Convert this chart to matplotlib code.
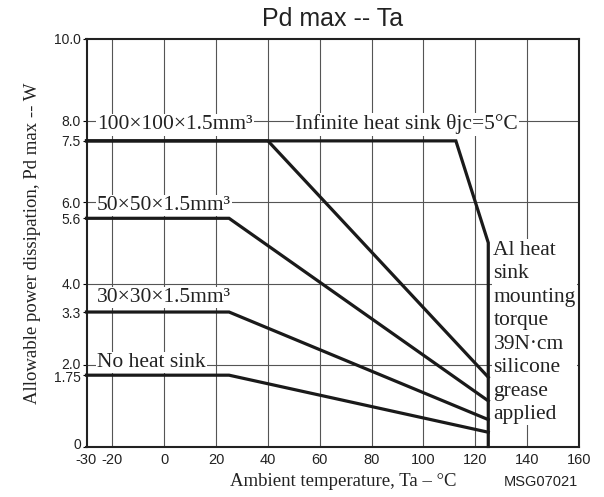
import numpy as np
import matplotlib
matplotlib.use("Agg")
import matplotlib.pyplot as plt
from matplotlib.transforms import ScaledTranslation

# ── Data ──────────────────────────────────────────────────────────────────────
inf_x,  inf_y  = [-30, 112.5, 125, 125], [7.5, 7.5, 5.0, 0.0]
s100_x, s100_y = [-30, 40, 125], [7.5, 7.5, 1.70]
s50_x,  s50_y  = [-30, 25, 125], [5.6, 5.6, 1.12]
s30_x,  s30_y  = [-30, 25, 125], [3.3, 3.3, 0.66]
none_x, none_y = [-30, 25, 125], [1.75, 1.75, 0.35]

xticks = [-30, -20, 0, 20, 40, 60, 80, 100, 120, 140, 160]
xgrid  = [-20, 0, 20, 40, 60, 80, 100, 120, 140]
yticks = [0, 1.75, 2.0, 3.3, 4.0, 5.6, 6.0, 7.5, 8.0, 10.0]
ytick_labels = ["0", "1.75", "2.0", "3.3", "4.0", "5.6", "6.0", "7.5", "8.0", "10.0"]
ygrid  = [2, 4, 6, 8]

SANS, SERIF = "Liberation Sans", "Liberation Serif"
LINE = "#1a1a1a"
TXT = "#222222"

fig = plt.figure(figsize=(6.04, 4.97), dpi=100)
ax = fig.add_axes([86.5/604, 1-446.5/497, (579-86.5)/604, (446.5-39)/497])
ax.set_xlim(-30, 160); ax.set_ylim(0, 10)

for gx in xgrid:
    ax.axvline(gx, color="#555555", lw=0.8, zorder=1)
for gy in ygrid:
    ax.axhline(gy, color="#555555", lw=0.8, zorder=1)

for xs, ys in [(inf_x, inf_y), (s100_x, s100_y), (s50_x, s50_y), (s30_x, s30_y), (none_x, none_y)]:
    ax.plot(xs, ys, color=LINE, lw=2.3, solid_joinstyle="miter", zorder=3, clip_on=False)

ax.set_xticks(xticks)
ax.set_xticklabels([str(v) for v in xticks], family=SANS, fontsize=10.5, color=TXT)
ax.set_yticks(yticks)
ax.set_yticklabels(ytick_labels, family=SANS, fontsize=10, color=TXT)
ax.tick_params(axis="x", length=0, pad=5)
ax.tick_params(axis="y", length=3, width=0.8, pad=1)
for s in ax.spines.values():
    s.set_linewidth(1.5); s.set_color(TXT)

# nudge the crowded labels apart a little
shift = {"2.0": 1.2, "1.75": -1.2, "0": 2.5}
for lab in ax.get_yticklabels():
    if lab.get_text() in shift:
        dy = shift[lab.get_text()] / 72
        lab.set_transform(lab.get_transform() + ScaledTranslation(0, dy, fig.dpi_scale_trans))

box = dict(facecolor="white", edgecolor="none", pad=1.0)
tk = dict(family=SERIF, fontsize=15.5, color=TXT, zorder=4, bbox=box)
ax.text(-26, 7.78, "100×100×1.5mm³", ha="left", va="baseline", **tk)
ax.text(50.4, 7.78, "Infinite heat sink θjc=5°C", ha="left", va="baseline", **tk)
ax.text(-26, 5.80, "50×50×1.5mm³", ha="left", va="baseline", **tk)
ax.text(-26, 3.55, "30×30×1.5mm³", ha="left", va="baseline", **tk)
ax.text(-26, 1.95, "No heat sink", ha="left", va="baseline", **tk)
ax.text(127, 5.05, "Al heat\nsink\nmounting\ntorque\n39N·cm\nsilicone\ngrease\napplied",
        ha="left", va="top", linespacing=1.32, **tk)

ax.set_title("Pd max -- Ta", family=SANS, fontsize=18, pad=9, color=TXT)
ax.set_ylabel("Allowable power dissipation, Pd max -- W", family=SERIF, fontsize=13.5, color=TXT)
ax.yaxis.set_label_coords(-0.093, 0.5)
fig.text(343/604, 1-482/497, "Ambient temperature, Ta – °C", family=SERIF, fontsize=13.5,
         ha="center", va="center", color=TXT)
fig.text(578/604, 1-482/497, "MSG07021", family=SANS, fontsize=10.5, ha="right", va="center",
         color=TXT)

fig.savefig("out.png", dpi=100)
